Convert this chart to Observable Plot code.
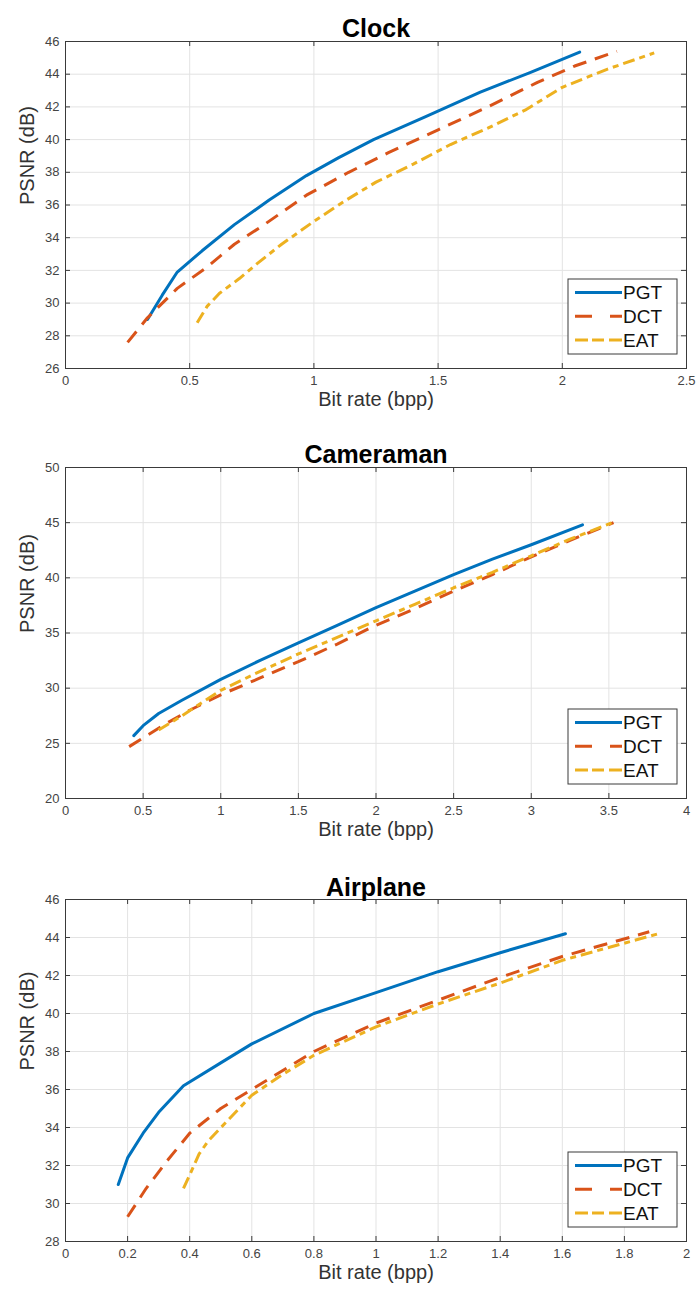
<!DOCTYPE html>
<html>
<head>
<meta charset="utf-8">
<script src="https://cdn.jsdelivr.net/npm/d3@7"></script>
<script src="https://cdn.jsdelivr.net/npm/@observablehq/plot@0.6"></script>
<style>
  html, body { margin: 0; padding: 0; background: #fff; }
  #root { width: 697px; }
  svg { display: block; }
</style>
</head>
<body>
<div id="root"></div>
<script>
// ---------- data ----------
const seriesNames = ["PGT", "DCT", "EAT"];
const seriesColors = ["#0072BD", "#D95319", "#EDB120"];

// Clock
const clockPGT = [[0.33,29.0],[0.39,30.5],[0.45,31.9],[0.55,33.2],[0.68,34.8],[0.82,36.3],[0.97,37.8],[1.1,38.9],[1.24,40.0],[1.45,41.4],[1.67,42.9],[1.87,44.1],[2.07,45.35]];
const clockDCT = [[0.25,27.6],[0.33,29.1],[0.45,30.9],[0.57,32.2],[0.68,33.6],[0.8,34.8],[0.97,36.6],[1.14,38.0],[1.3,39.2],[1.5,40.6],[1.7,42.0],[1.9,43.5],[2.05,44.5],[2.22,45.4]];
const clockEAT = [[0.53,28.8],[0.57,29.8],[0.62,30.6],[0.7,31.5],[0.77,32.4],[0.87,33.6],[1.0,35.0],[1.13,36.3],[1.25,37.4],[1.4,38.5],[1.55,39.7],[1.7,40.7],[1.85,41.8],[2.0,43.2],[2.18,44.3],[2.37,45.3]];
const clockXTicks = [0, 0.5, 1, 1.5, 2, 2.5];
const clockYTicks = [26, 28, 30, 32, 34, 36, 38, 40, 42, 44, 46];

// Cameraman
const camPGT = [[0.44,25.7],[0.5,26.6],[0.6,27.7],[0.75,28.9],[1.0,30.8],[1.25,32.5],[1.5,34.1],[1.75,35.7],[2.0,37.3],[2.25,38.8],[2.5,40.3],[2.75,41.7],[3.0,43.0],[3.33,44.8]];
const camDCT = [[0.41,24.7],[0.5,25.5],[0.65,26.8],[0.8,28.0],[1.0,29.4],[1.25,30.9],[1.5,32.4],[1.75,34.0],[2.0,35.7],[2.25,37.2],[2.5,38.8],[2.75,40.3],[3.0,41.9],[3.25,43.4],[3.53,45.0]];
const camEAT = [[0.6,26.2],[0.75,27.5],[1.0,29.8],[1.25,31.5],[1.5,33.1],[1.75,34.6],[2.0,36.1],[2.25,37.6],[2.5,39.1],[2.75,40.5],[3.0,42.0],[3.25,43.5],[3.52,45.0]];
const camXTicks = [0, 0.5, 1, 1.5, 2, 2.5, 3, 3.5, 4];
const camYTicks = [20, 25, 30, 35, 40, 45, 50];

// Airplane
const airPGT = [[0.17,31.0],[0.2,32.4],[0.25,33.7],[0.3,34.8],[0.38,36.2],[0.5,37.4],[0.6,38.4],[0.8,40.0],[1.0,41.1],[1.2,42.2],[1.4,43.2],[1.61,44.2]];
const airDCT = [[0.2,29.3],[0.26,30.8],[0.33,32.3],[0.4,33.7],[0.5,35.0],[0.6,36.0],[0.8,38.0],[1.0,39.5],[1.2,40.7],[1.4,41.9],[1.6,43.0],[1.88,44.3]];
const airEAT = [[0.38,30.8],[0.4,31.5],[0.43,32.6],[0.46,33.3],[0.53,34.5],[0.6,35.7],[0.7,36.8],[0.8,37.8],[1.0,39.3],[1.2,40.5],[1.4,41.6],[1.6,42.8],[1.91,44.2]];
const airXTicks = [0, 0.2, 0.4, 0.6, 0.8, 1, 1.2, 1.4, 1.6, 1.8, 2];
const airYTicks = [28, 30, 32, 34, 36, 38, 40, 42, 44, 46];

const xLabel = "Bit rate (bpp)";
const yLabel = "PSNR (dB)";

// ---------- drawing ----------
const W = 697;
const FONT = "'Liberation Sans', Arial, Helvetica, sans-serif";
const AXIS = "#3a3a3a";
const GRID = "#e3e3e3";
const dashes = [null, "14,9", "12,5,6,5"];
const legendDashes = [null, "17,18", "13,4,12,5"];

const panels = [
  {title: "Clock", series: [clockPGT, clockDCT, clockEAT], xTicks: clockXTicks, yTicks: clockYTicks,
   height: 430, mt: 41, mb: 62, titleDy: -22},
  {title: "Cameraman", series: [camPGT, camDCT, camEAT], xTicks: camXTicks, yTicks: camYTicks,
   height: 432, mt: 37, mb: 64, titleDy: -22},
  {title: "Airplane", series: [airPGT, airDCT, airEAT], xTicks: airXTicks, yTicks: airYTicks,
   height: 430, mt: 37, mb: 51, titleDy: -21}
];

const ML = 65, MR = 11;

for (const p of panels) {
  const pw = W - ML - MR;
  const ph = p.height - p.mt - p.mb;
  const xDom = [p.xTicks[0], p.xTicks[p.xTicks.length - 1]];
  const yDom = [p.yTicks[0], p.yTicks[p.yTicks.length - 1]];
  const tl = 5;
  const marks = [
    Plot.gridX(p.xTicks, {stroke: GRID, strokeOpacity: 1}),
    Plot.gridY(p.yTicks, {stroke: GRID, strokeOpacity: 1}),
    // inward ticks on all four sides
    Plot.ruleX(p.xTicks, {x: d => d, insetTop: ph - tl, stroke: AXIS}),
    Plot.ruleX(p.xTicks, {x: d => d, insetBottom: ph - tl, stroke: AXIS}),
    Plot.ruleY(p.yTicks, {y: d => d, insetRight: pw - tl, stroke: AXIS}),
    Plot.ruleY(p.yTicks, {y: d => d, insetLeft: pw - tl, stroke: AXIS}),
    Plot.axisX(p.xTicks, {tickSize: 0, tickPadding: 7, tickFormat: d => String(d), fontSize: 13, fill: "#444", label: null}),
    Plot.axisY(p.yTicks, {tickSize: 0, tickPadding: 6, tickFormat: d => String(d), fontSize: 13, fill: "#444", label: null}),
    ...p.series.map((s, i) => Plot.line(s, {
      x: d => d[0], y: d => d[1], stroke: seriesColors[i], strokeWidth: 3,
      strokeDasharray: dashes[i], strokeLinecap: i === 0 ? "round" : "butt", strokeLinejoin: "round"
    })),
    Plot.frame({stroke: AXIS, strokeWidth: 1}),
    Plot.text([p.title], {frameAnchor: "top", dy: p.titleDy, text: d => d, fontSize: 25, fontWeight: "bold", fill: "#000"}),
    Plot.text([xLabel], {frameAnchor: "bottom", dy: 37, text: d => d, fontSize: 20, fill: "#333"}),
    Plot.text([yLabel], {frameAnchor: "left", dx: -38, rotate: -90, text: d => d, fontSize: 20, fill: "#333"})
  ];
  const svg = Plot.plot({
    width: W, height: p.height,
    marginLeft: ML, marginRight: MR, marginTop: p.mt, marginBottom: p.mb,
    style: {fontFamily: FONT, background: "white", overflow: "visible"},
    x: {domain: xDom, label: null},
    y: {domain: yDom, label: null},
    marks
  });

  // legend box (MATLAB-style, lower right inside axes)
  const bw = 109, bh = 75;
  const bx = W - MR - 9 - bw;
  const by = p.height - p.mb - 14 - bh;
  const g = d3.select(svg).append("g").attr("font-family", FONT).attr("text-anchor", "start");
  g.append("rect").attr("x", bx).attr("y", by).attr("width", bw).attr("height", bh)
    .attr("fill", "white").attr("stroke", "#3a3a3a").attr("stroke-width", 1);
  seriesNames.forEach((name, i) => {
    const yy = by + 13.5 + i * 23.7;
    g.append("line").attr("x1", bx + 7).attr("x2", bx + 54).attr("y1", yy).attr("y2", yy)
      .attr("stroke", seriesColors[i]).attr("stroke-width", 3)
      .attr("stroke-dasharray", legendDashes[i])
      .attr("stroke-linecap", "butt");
    g.append("text").attr("x", bx + 55).attr("y", yy).attr("dy", "0.36em")
      .attr("text-anchor", "start")
      .attr("font-size", 19).attr("fill", "#111").text(name);
  });

  document.getElementById("root").appendChild(svg);
}
</script>
</body>
</html>
